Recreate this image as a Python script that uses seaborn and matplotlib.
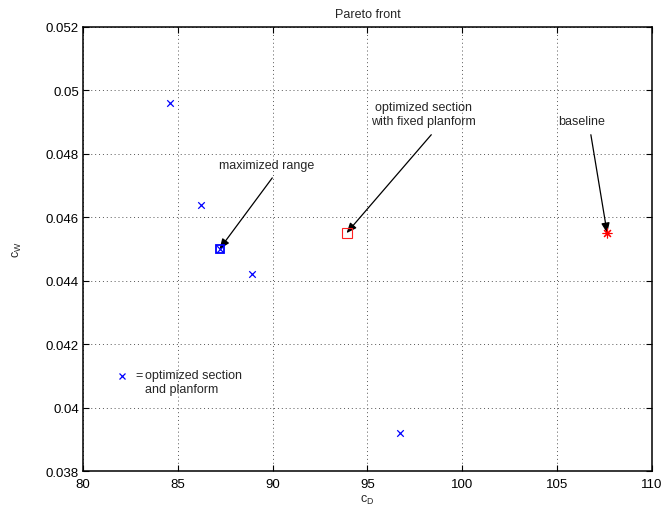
import numpy as np
import matplotlib
matplotlib.use("Agg")
import matplotlib.pyplot as plt
import seaborn as sns

# Pareto front points (optimized section and planform)
front_cd = [84.6, 86.2, 87.2, 88.9, 96.7]
front_cw = [0.0496, 0.0464, 0.0450, 0.0442, 0.0392]

# special designs
max_range = (87.2, 0.0450)
fixed_planform = (93.9, 0.0455)
baseline = (107.65, 0.0455)

x_ticks = [80, 85, 90, 95, 100, 105, 110]
y_ticks = [0.038, 0.04, 0.042, 0.044, 0.046, 0.048, 0.05, 0.052]
y_tick_labels = ['0.038', '0.04', '0.042', '0.044', '0.046', '0.048', '0.05', '0.052']

sns.set_style('ticks')
plt.rcParams['font.family'] = ['Liberation Sans', 'DejaVu Sans']
plt.rcParams['font.size'] = 9
plt.rcParams['mathtext.fontset'] = 'custom'
plt.rcParams['mathtext.rm'] = 'Liberation Sans'
plt.rcParams['mathtext.it'] = 'Liberation Sans'

fig = plt.figure(figsize=(6.65, 5.06), dpi=100)
ax = fig.add_axes([0.125, 0.067, 0.855, 0.878])

ax.grid(True, linestyle=(0, (1, 3)), color='#555555', linewidth=0.7)
ax.set_axisbelow(True)

sns.scatterplot(x=front_cd, y=front_cw, marker='x', color='#0000ff', s=22,
                linewidth=0.9, ax=ax, zorder=3)
ax.plot(*max_range, marker='s', mfc='none', mec='#0000ff', ms=6, mew=1.3, zorder=4)
ax.plot(*fixed_planform, marker='s', mfc='none', mec='#ff2020', ms=6.5, mew=0.8, zorder=4)
ax.plot(*baseline, marker=(8, 2, 0), color='#ff0000', ms=7, mew=0.8, zorder=4)

arrow = dict(arrowstyle='-|>,head_length=0.6,head_width=0.25', color='k',
             lw=0.9, shrinkA=0, shrinkB=0, mutation_scale=10)

ax.text(87.16, 0.04766, 'maximized range', ha='left', va='center')
ax.annotate('', xy=max_range, xytext=(89.98, 0.04724), arrowprops=arrow)

ax.text(97.97, 0.04926, 'optimized section\nwith fixed planform', ha='center',
        va='center', multialignment='center')
ax.annotate('', xy=fixed_planform, xytext=(98.37, 0.04860), arrowprops=arrow)

ax.text(105.05, 0.04904, 'baseline', ha='left', va='center')
ax.annotate('', xy=baseline, xytext=(106.79, 0.04860), arrowprops=arrow)

# legend-like note
ax.plot(82.04, 0.0410, marker='x', color='#0000ff', ms=5, mew=0.9, ls='none')
ax.text(82.74, 0.04122, '=', ha='left', va='top')
ax.text(83.26, 0.04122, 'optimized section\nand planform', ha='left', va='top')

ax.set_xlim(80, 110)
ax.set_ylim(0.038, 0.052)
ax.set_xticks(x_ticks)
ax.set_yticks(y_ticks)
ax.set_yticklabels(y_tick_labels)
ax.tick_params(direction='in', length=4, width=0.8, top=True, right=True,
               labelsize=9.5, colors='k')
ax.tick_params(axis='x', pad=5)
ax.tick_params(axis='y', pad=3)
for sp in ax.spines.values():
    sp.set_visible(True)
    sp.set_linewidth(1.1)
    sp.set_color('k')

ax.set_title('Pareto front', fontsize=9, pad=7)
ax.set_ylabel('c$_W$', fontsize=9, labelpad=16)
ax.set_xlabel('c$_D$', fontsize=9, labelpad=2)

fig.savefig('out.png', dpi=100)
